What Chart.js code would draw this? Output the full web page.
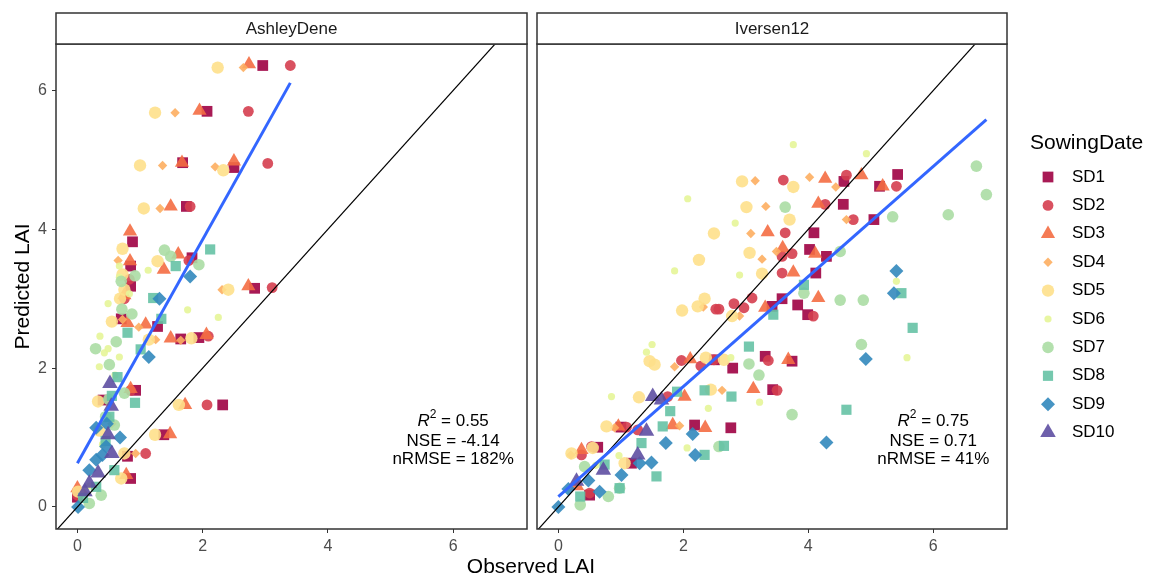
<!DOCTYPE html>
<html>
<head>
<meta charset="utf-8">
<script src="https://cdn.jsdelivr.net/npm/chart.js@4.4.1/dist/chart.umd.min.js"></script>
<style>
  body { margin: 0; background: #fff; font-family: "Liberation Sans", Arial, sans-serif; }
  #wrap { position: relative; width: 1162px; height: 581px; }
  #leftChart { position: absolute; left: 0; top: 0; }
  #rightChart { position: absolute; left: 532px; top: 0; }
  #xTitle { position: absolute; left: 0; width: 1062px; top: 554px; text-align: center; font-size: 21px; color: #000; }
</style>
</head>
<body>
<div id="wrap">
  <canvas id="leftChart" width="532" height="581"></canvas>
  <canvas id="rightChart" width="630" height="581"></canvas>
  <div id="xTitle">Observed LAI</div>
</div>
<script>
// === Data: [observed, predicted] pairs per sowing date ===
const sowingDates = ['SD1', 'SD2', 'SD3', 'SD4', 'SD5', 'SD6', 'SD7', 'SD8', 'SD9', 'SD10'];
const tickValues = [0, 2, 4, 6];
const xRange = [-0.342, 7.18];
const yRange = [-0.318, 6.67];
const oneToOne = [-1, 8];

// AshleyDene
const adSD1 = [[2.96,6.36],[2.07,5.70],[1.68,4.96],[2.50,4.89],[1.74,4.33],[0.88,3.82],[1.83,3.59],[0.85,3.47],[0.85,3.18],[2.83,3.15],[0.70,2.71],[1.28,2.60],[1.65,2.42],[1.94,2.44],[0.93,1.68],[2.32,1.47],[0.41,1.54],[1.38,1.04],[0.80,0.73],[0.85,0.41],[0.0,0.14]];
const adSD2 = [[3.40,6.36],[2.73,5.70],[3.04,4.95],[1.80,4.33],[2.09,2.46],[3.11,3.16],[0.83,3.28],[1.78,3.55],[0.85,1.68],[2.07,1.47],[1.09,0.77],[0.0,0.17],[0.75,3.0]];
const adSD3 = [[2.74,6.38],[1.95,5.71],[1.67,4.96],[2.50,4.98],[1.49,4.33],[0.84,3.97],[1.61,3.64],[0.84,3.54],[1.38,3.42],[0.80,2.65],[1.09,2.63],[1.49,2.43],[2.06,2.48],[2.73,3.18],[1.72,1.47],[1.48,1.05],[0.78,0.46],[0.0,0.27],[0.85,1.70],[0.75,3.05]];
const adSD4 = [[2.65,6.33],[1.56,5.68],[1.36,4.92],[2.20,4.90],[1.32,4.30],[0.98,2.59],[1.65,2.40],[1.25,2.41],[2.31,3.13],[0.93,0.77],[0.65,3.55],[0.55,1.2],[0.1,0.2],[0.72,2.7]];
const adSD5 = [[2.24,6.33],[1.24,5.68],[1.00,4.92],[2.33,4.85],[1.06,4.30],[0.72,3.72],[1.28,3.54],[0.72,3.35],[0.75,3.13],[2.41,3.13],[0.55,2.67],[1.14,2.41],[1.82,2.43],[0.33,1.52],[1.62,1.47],[1.24,1.04],[0.75,0.77],[0.70,0.41],[0.01,0.22],[0.68,3.0],[0.35,1.1]];
const adSD6 = [[0.67,3.47],[1.13,3.41],[0.67,3.31],[0.83,3.07],[0.49,2.93],[1.76,2.84],[2.25,2.73],[0.36,2.46],[0.49,2.28],[0.43,2.22],[0.67,2.16],[0.35,2.02],[0.2,0.3],[0.4,0.9],[0.5,1.3],[0.6,1.9]];
const adSD7 = [[1.39,3.70],[1.49,3.61],[1.94,3.49],[0.92,3.33],[0.71,2.85],[0.87,2.78],[0.62,2.38],[0.29,2.28],[0.51,2.05],[0.75,1.64],[0.59,1.18],[0.38,0.17],[0.19,0.05],[0.45,1.3],[0.5,1.55],[0.7,3.25]];
const adSD8 = [[2.12,3.71],[1.57,3.47],[1.21,3.01],[1.34,2.71],[0.80,2.51],[1.01,2.27],[0.64,1.87],[0.92,1.50],[0.51,1.30],[0.59,0.53],[0.30,0.29],[0.09,0.13],[0.45,0.95],[0.55,1.6]];
const adSD9 = [[1.80,3.32],[1.31,3.00],[1.14,2.16],[0.30,1.14],[0.68,1.00],[0.46,0.87],[0.30,0.68],[0.19,0.53],[0.01,0.0],[0.4,0.75],[0.47,1.2]];
const adSD10 = [[0.52,1.78],[0.54,1.45],[0.49,1.04],[0.55,0.77],[0.33,0.49],[0.19,0.34],[0.12,0.22]];
const adFit = [[0, 0.63], [3.40, 6.11]];
const adStats = ['0.55', '-4.14', '182%'];

// Iversen12
const ivSD1 = [[2.50,2.12],[2.79,2.00],[2.18,1.18],[2.76,1.14],[1.17,0.63],[0.63,0.86],[0.50,0.17],[3.58,3.00],[3.42,2.89],[3.83,2.91],[3.99,2.77],[4.02,3.71],[4.29,3.61],[4.12,3.37],[4.09,3.95],[4.56,4.36],[5.05,4.14],[4.57,4.69],[5.14,4.62],[5.43,4.79],[3.74,2.10],[3.43,1.69],[3.31,2.17],[1.0,1.15]];
const ivSD2 = [[1.97,2.11],[2.28,2.03],[1.75,1.59],[1.09,1.15],[1.27,1.11],[0.37,0.75],[0.53,0.87],[0.50,0.20],[2.52,2.85],[2.81,2.93],[2.97,2.87],[3.10,3.01],[2.57,2.85],[3.58,3.61],[3.74,3.65],[3.58,3.37],[3.60,4.71],[4.27,4.36],[4.61,4.78],[4.72,4.14],[5.41,4.62],[3.63,3.95],[4.08,2.75],[3.36,2.11],[3.50,1.68],[2.49,2.12]];
const ivSD3 = [[2.11,2.13],[2.02,1.59],[0.96,1.16],[0.37,0.82],[1.83,1.18],[2.35,1.14],[3.31,2.87],[3.35,3.96],[3.59,3.73],[3.76,3.38],[4.11,3.65],[4.16,3.01],[4.16,4.37],[4.27,4.73],[4.85,4.78],[5.19,4.62],[3.68,2.12],[3.12,1.70],[0.3,0.3]];
const ivSD4 = [[1.86,2.02],[0.90,1.14],[1.94,1.17],[2.62,1.68],[2.32,2.88],[2.90,2.75],[3.08,3.94],[3.15,4.70],[3.32,4.33],[3.26,3.57],[3.49,3.68],[4.02,4.75],[4.44,4.61],[4.61,4.14],[0.2,0.75]];
const ivSD5 = [[1.46,2.10],[1.54,2.05],[2.36,2.15],[2.65,2.12],[1.29,1.58],[0.77,1.16],[0.21,0.77],[1.06,0.63],[2.49,3.94],[2.25,3.56],[2.34,3.00],[2.23,2.89],[1.98,2.83],[2.94,4.69],[3.76,4.61],[3.01,4.32],[3.70,4.14],[3.06,3.66],[3.26,3.36],[2.78,2.75],[2.44,1.69],[0.55,0.85]];
const ivSD6 = [[2.07,4.44],[1.86,3.40],[3.76,5.22],[4.93,5.09],[2.83,4.09],[2.90,3.34],[1.50,2.34],[1.41,2.23],[2.76,2.15],[0.85,1.59],[2.40,1.42],[2.06,0.85],[0.97,0.74],[3.22,1.51],[5.41,3.25],[5.58,2.15],[0.6,0.6]];
const ivSD7 = [[3.63,4.32],[5.35,4.18],[4.51,3.68],[3.93,3.08],[4.51,2.98],[4.88,2.98],[4.85,2.34],[6.69,4.91],[6.85,4.50],[6.24,4.21],[3.74,1.33],[3.21,1.90],[3.05,2.06],[2.57,0.87],[0.42,0.58],[0.98,0.27],[0.35,0.03],[0.80,0.15]];
const ivSD8 = [[3.93,3.20],[3.44,2.77],[3.05,2.31],[5.49,3.08],[5.67,2.58],[4.61,1.40],[1.90,1.66],[1.79,1.38],[2.34,1.68],[2.77,1.59],[1.33,0.92],[1.67,1.16],[2.34,0.75],[2.65,0.88],[0.74,0.61],[1.57,0.44],[0.98,0.27],[0.35,0.15]];
const ivSD9 = [[2.15,1.05],[1.72,0.92],[2.19,0.75],[1.30,0.63],[1.49,0.64],[1.01,0.46],[0.48,0.38],[0.66,0.22],[0.0,0.0],[0.16,0.26],[4.29,0.93],[4.92,2.13],[5.41,3.40],[5.37,3.08]];
const ivSD10 = [[1.51,1.59],[1.65,1.54],[1.41,1.09],[0.72,0.53],[1.27,0.75],[0.29,0.37]];
const ivFit = [[0, 0.15], [6.85, 5.58]];
const ivStats = ['0.75', '0.71', '41%'];

// === Styling per sowing date (ggplot Spectral palette + shapes) ===
const colors = ['#9E0142', '#D53E4F', '#F46D43', '#FDAE61', '#FEE08B', '#E6F598', '#ABDDA4', '#66C2A5', '#3288BD', '#5E4FA2'];
const shapes = ['rect', 'circle', 'triangle', 'rectRot', 'circle', 'circle', 'circle', 'rect', 'rectRot', 'triangle'];
const radii = [7.6, 5.4, 8.2, 4.7, 6.2, 3.6, 5.8, 7.2, 7, 9];
const pointAlpha = 0.9;

Chart.defaults.font.family = '"Liberation Sans", Arial, sans-serif';

function withAlpha(hex, a) {
  const n = parseInt(hex.slice(1), 16);
  return `rgba(${(n >> 16) & 255}, ${(n >> 8) & 255}, ${n & 255}, ${a})`;
}

function toXY(pairs) {
  return pairs.map(p => ({ x: p[0], y: p[1] }));
}

function buildDatasets(seriesList, fit) {
  const sets = seriesList.map((pairs, i) => ({
    label: sowingDates[i],
    data: toXY(pairs),
    pointStyle: shapes[i],
    pointRadius: radii[i],
    pointBackgroundColor: withAlpha(colors[i], pointAlpha),
    pointBorderWidth: 0,
    order: 20 - i
  }));
  sets.push({
    label: '1:1',
    data: toXY([[oneToOne[0], oneToOne[0]], [oneToOne[1], oneToOne[1]]]),
    showLine: true,
    borderColor: '#000',
    borderWidth: 1.2,
    pointRadius: 0,
    order: 1
  });
  sets.push({
    label: 'fit',
    data: toXY(fit),
    showLine: true,
    borderColor: '#3366FF',
    borderWidth: 3,
    pointRadius: 0,
    order: 0
  });
  return sets;
}

// === Panel frame + strip label ===
const panelFrame = {
  id: 'panelFrame',
  afterDraw(chart, args, opts) {
    const { ctx, chartArea: a } = chart;
    ctx.save();
    ctx.strokeStyle = '#333';
    ctx.lineWidth = 1.5;
    ctx.strokeRect(a.left, a.top, a.right - a.left, a.bottom - a.top);
    ctx.fillStyle = '#fff';
    ctx.fillRect(a.left, a.top - 31, a.right - a.left, 31);
    ctx.strokeRect(a.left, a.top - 31, a.right - a.left, 31);
    ctx.fillStyle = '#1a1a1a';
    ctx.font = '17px "Liberation Sans", Arial, sans-serif';
    ctx.textAlign = 'center';
    ctx.textBaseline = 'middle';
    ctx.fillText(opts.strip, (a.left + a.right) / 2, a.top - 15);
    ctx.restore();
  }
};

// === Fit statistics text ===
const statsText = {
  id: 'statsText',
  afterDatasetsDraw(chart, args, opts) {
    const { ctx, scales } = chart;
    const cx = scales.x.getPixelForValue(6.0);
    const ys = [1.23, 0.95, 0.68].map(v => scales.y.getPixelForValue(v));
    const font = '17px "Liberation Sans", Arial, sans-serif';
    ctx.save();
    ctx.fillStyle = '#000';
    ctx.textBaseline = 'middle';
    // R^2 line
    const rest = ' = ' + opts.stats[0];
    ctx.font = 'italic ' + font;
    const wR = ctx.measureText('R').width;
    ctx.font = '12px "Liberation Sans", Arial, sans-serif';
    const w2 = ctx.measureText('2').width;
    ctx.font = font;
    const wRest = ctx.measureText(rest).width;
    let x = cx - (wR + w2 + wRest) / 2;
    ctx.textAlign = 'left';
    ctx.font = 'italic ' + font;
    ctx.fillText('R', x, ys[0]);
    ctx.font = '12px "Liberation Sans", Arial, sans-serif';
    ctx.fillText('2', x + wR, ys[0] - 7);
    ctx.font = font;
    ctx.fillText(rest, x + wR + w2, ys[0]);
    ctx.textAlign = 'center';
    ctx.fillText('NSE = ' + opts.stats[1], cx, ys[1]);
    ctx.fillText('nRMSE = ' + opts.stats[2], cx, ys[2]);
    ctx.restore();
  }
};

// === Legend (drawn in the right padding of the second panel) ===
const sowingLegend = {
  id: 'sowingLegend',
  afterDraw(chart) {
    const { ctx, chartArea: a } = chart;
    const x0 = a.right + 23;
    ctx.save();
    ctx.fillStyle = '#000';
    ctx.textBaseline = 'middle';
    ctx.textAlign = 'left';
    ctx.font = '21px "Liberation Sans", Arial, sans-serif';
    ctx.fillText('SowingDate', x0, 143);
    ctx.font = '17px "Liberation Sans", Arial, sans-serif';
    sowingDates.forEach((sd, i) => {
      const y = 177 + i * 28.4;
      ctx.fillStyle = withAlpha(colors[i], pointAlpha);
      Chart.helpers.drawPoint(ctx, { pointStyle: shapes[i], radius: radii[i], rotation: 0, borderWidth: 0 }, x0 + 18, y);
      ctx.fillStyle = '#000';
      ctx.fillText(sd, x0 + 42, y);
    });
    ctx.restore();
  }
};

function xScale() {
  return {
    type: 'linear',
    min: xRange[0],
    max: xRange[1],
    afterBuildTicks: s => { s.ticks = tickValues.map(v => ({ value: v })); },
    afterFit: s => { s.height = 52; },
    grid: { drawOnChartArea: false, drawTicks: true, tickLength: 4, color: '#333' },
    border: { display: false },
    ticks: { color: '#4d4d4d', font: { size: 16 }, padding: 4, maxRotation: 0 }
  };
}

function makePanel(canvasId, seriesList, fit, stats, strip, isLeft) {
  const yScale = {
    type: 'linear',
    min: yRange[0],
    max: yRange[1],
    display: isLeft,
    afterBuildTicks: s => { s.ticks = tickValues.map(v => ({ value: v })); },
    afterFit: s => { s.width = isLeft ? 56 : 0; },
    grid: { drawOnChartArea: false, drawTicks: true, tickLength: 4, color: '#333' },
    border: { display: false },
    ticks: { color: '#4d4d4d', font: { size: 16 }, padding: 5 },
    title: { display: true, text: 'Predicted LAI', color: '#000', font: { size: 21 }, padding: { top: 11 } }
  };
  return new Chart(document.getElementById(canvasId), {
    type: 'scatter',
    data: { datasets: buildDatasets(seriesList, fit) },
    options: {
      responsive: false,
      animation: false,
      layout: {
        autoPadding: false,
        padding: isLeft ? { top: 44, right: 5, left: 0, bottom: 0 } : { top: 44, right: 155, left: 5, bottom: 0 }
      },
      scales: { x: xScale(), y: yScale },
      plugins: {
        legend: { display: false },
        tooltip: { enabled: false },
        panelFrame: { strip: strip },
        statsText: { stats: stats }
      }
    },
    plugins: isLeft ? [panelFrame, statsText] : [panelFrame, statsText, sowingLegend]
  });
}

makePanel('leftChart', [adSD1, adSD2, adSD3, adSD4, adSD5, adSD6, adSD7, adSD8, adSD9, adSD10], adFit, adStats, 'AshleyDene', true);
makePanel('rightChart', [ivSD1, ivSD2, ivSD3, ivSD4, ivSD5, ivSD6, ivSD7, ivSD8, ivSD9, ivSD10], ivFit, ivStats, 'Iversen12', false);
</script>
</body>
</html>
